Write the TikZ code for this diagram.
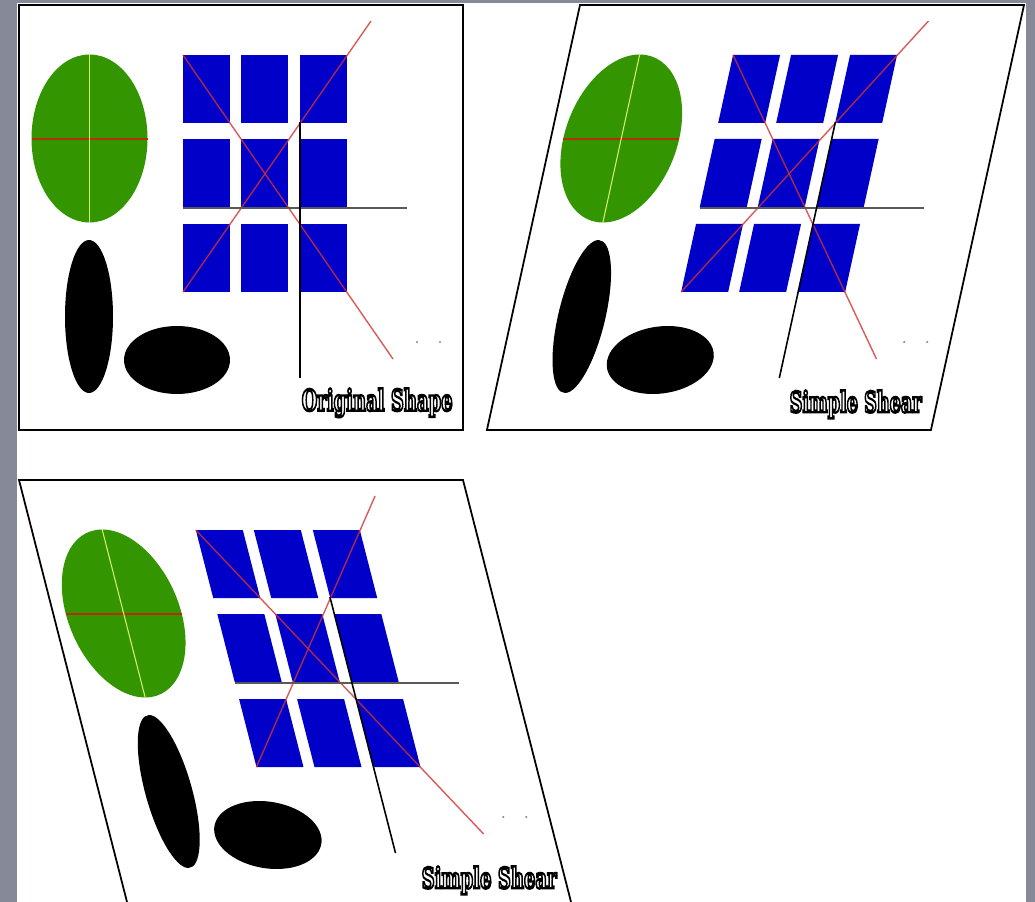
\documentclass[tikz,border=0pt]{standalone}
\usepackage{fontspec}
\usepackage{graphicx}
\newfontfamily\titlefont{DejaVu Serif}[BoldFeatures={FakeBold=8}]
% white letters with a black rim (stroke colour set after the fill colour)
\newcommand{\rimtext}[1]{\special{pdf:literal direct 0 0 0 RG}#1}

\definecolor{slidegrey}{RGB}{134,137,151}
\definecolor{leafgreen}{RGB}{51,150,0}
\definecolor{majorred}{RGB}{185,45,0}
\definecolor{minoryellow}{RGB}{215,240,110}
\definecolor{tileblue}{RGB}{0,0,200}
\definecolor{strainred}{RGB}{210,50,50}

% marked sheet before deformation (pixel units, y pointing down)
\newcommand{\markedsheet}{%
  \draw[frame] (19,5) rectangle (463,430);
  % --- ellipses ---
  \fill[leafgreen] (89.5,138.5) ellipse [x radius=58, y radius=84];
  \draw[majoraxis] (31.5,139) -- (147.5,139);
  \draw[minoraxis] (89.5,54.5) -- (89.5,222.5);
  \fill[black] (89,316.5) ellipse [x radius=24, y radius=76.5];
  \fill[black] (177,360) ellipse [x radius=53, y radius=34];
  % --- tiles ---
  \foreach \tx in {183,241,300}
    \foreach \ty in {55,139,224}
      \fill[tile] (\tx,\ty) rectangle ++(47,68);
  % --- strain lines and axes ---
  \draw[strain] (183,55) -- (393,359);
  \draw[strain] (183,292) -- (371,21);
  \draw[axis, black!65] (183,208) -- (407,208);
  \draw[axis] (300,122) -- (300,378);
  \fill[black!45] (417,342) circle [radius=1.2];
  \fill[black!45] (440,342) circle [radius=1.2];
}

\begin{document}
\begin{tikzpicture}[
    x=0.02cm, y=-0.02cm,
    frame/.style={draw=black, line width=1pt},
    majoraxis/.style={draw=majorred, line width=1.2pt},
    minoraxis/.style={draw=minoryellow, line width=0.6pt},
    tile/.style={fill=tileblue},
    strain/.style={draw=strainred, line width=0.8pt, opacity=0.8},
    axis/.style={draw=black, line width=0.9pt},
    caption/.style={inner sep=0pt, text=white,
        font=\titlefont\bfseries\fontsize{18}{18}\selectfont}
]
\useasboundingbox (0,0) rectangle (1035,902);
\clip (0,0) rectangle (1035,902);

% --- slide background ---
\fill[slidegrey] (0,0) rectangle (1035,902);
\fill[white] (17,3) rectangle (1026,902);

% --- original shape ---
\markedsheet

% --- simple shear, top to the right ---
\begin{scope}[shift={(562.1,0)}, xslant=0.219]
  \markedsheet
\end{scope}

% --- simple shear, bottom to the right ---
\begin{scope}[shift={(-1.28,475)}, xslant=-0.256]
  \markedsheet
\end{scope}

% --- captions ---
\node[caption, anchor=north east] (origlabel) at (453,388)
    {\resizebox*{3.02cm}{0.58cm}{\rimtext{Original Shape}}};
\node[caption, anchor=north east] (shearlabelA) at (922,390)
    {\resizebox*{2.64cm}{0.56cm}{\rimtext{Simple Shear}}};
\node[caption, anchor=north east] (shearlabelB) at (557,866)
    {\resizebox*{2.70cm}{0.56cm}{\rimtext{Simple Shear}}};

\end{tikzpicture}
\end{document}
